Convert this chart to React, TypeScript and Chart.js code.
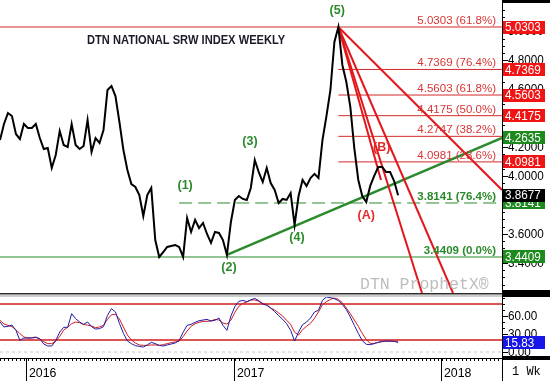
import React, { useEffect, useRef } from 'react';
import { Chart, registerables } from 'chart.js';

Chart.register(...registerables);

// ---------- data ----------
const START_DATE = '2015-11-17';
const YEAR_LABELS = ['2016', '2017', '2018'];

const PRICE = [
  4.249, 4.36, 4.436, 4.415, 4.291, 4.256, 4.36, 4.332, 4.332, 4.36,
  4.263, 4.187, 4.194, 4.056, 4.146, 4.312, 4.215, 4.201, 4.36, 4.215,
  4.187, 4.208, 4.388, 4.167, 4.263, 4.229, 4.319, 4.595, 4.623, 4.553,
  4.374, 4.18, 4.042, 3.945, 3.925, 3.869, 3.724, 3.869, 3.918, 3.558,
  3.441, 3.475, 3.51, 3.517, 3.524, 3.51, 3.441, 3.71, 3.614, 3.697,
  3.641, 3.676, 3.6, 3.538, 3.614, 3.607, 3.558, 3.455, 3.683, 3.835,
  3.862, 3.842, 3.835, 3.918, 4.111, 4.028, 3.959, 4.056, 3.952, 3.904,
  3.814, 3.842, 3.835, 3.883, 3.662, 3.862, 3.973, 3.932, 3.987, 4.015,
  3.987, 4.249, 4.415, 4.595, 4.927, 5.0303, 4.768, 4.65, 4.478, 4.194,
  3.973, 3.862, 3.821, 3.932, 4.001, 4.063, 4.063, 4.028, 4.028, 3.966,
  3.8677,
];

const STOCH_K = [
  50.0, 41.7, 42.8, 45.0, 36.1, 19.4, 23.3, 23.3, 23.3, 24.4,
  22.2, 13.3, 10.0, 10.0, 18.9, 33.3, 41.1, 41.1, 63.9, 55.6,
  50.0, 46.1, 50.0, 42.2, 38.3, 38.9, 42.2, 61.1, 72.2, 66.7,
  47.8, 31.1, 18.3, 13.9, 10.6, 9.4, 8.3, 11.7, 16.1, 13.9,
  11.1, 10.0, 11.7, 13.3, 15.0, 19.4, 32.8, 44.4, 46.1, 49.4,
  52.2, 53.3, 54.4, 51.7, 52.8, 56.7, 44.4, 36.1, 60.0, 75.6,
  84.4, 86.1, 83.9, 86.7, 89.4, 85.6, 80.0, 77.8, 73.3, 67.2,
  60.6, 54.4, 47.2, 36.1, 18.3, 33.3, 45.6, 50.0, 56.7, 66.7,
  69.4, 86.1, 91.7, 90.6, 88.9, 85.6, 79.4, 70.6, 58.3, 44.4,
  31.1, 18.9, 12.8, 12.2, 13.9, 16.1, 17.8, 18.3, 18.3, 17.8,
  15.83,
];

const STOCH_D = [
  52.8, 46.7, 44.4, 42.2, 37.2, 30.6, 25.0, 23.3, 23.9, 25.0,
  21.7, 17.2, 13.9, 13.9, 17.8, 26.1, 36.7, 41.1, 47.2, 50.0,
  48.9, 45.6, 45.0, 43.3, 40.6, 41.7, 44.4, 54.4, 62.2, 62.8,
  55.0, 41.7, 28.3, 20.0, 15.0, 11.7, 11.1, 11.1, 11.7, 11.7,
  11.1, 12.2, 13.9, 15.6, 16.7, 17.8, 25.6, 35.0, 42.8, 47.2,
  49.4, 51.1, 51.1, 51.7, 54.4, 53.3, 48.3, 46.7, 52.8, 66.1,
  76.1, 81.1, 83.3, 86.7, 86.7, 84.4, 81.1, 78.9, 73.3, 70.0,
  65.0, 60.0, 52.8, 46.1, 32.8, 28.3, 37.2, 42.8, 47.8, 56.1,
  66.7, 78.9, 83.9, 87.8, 90.0, 87.8, 82.2, 73.3, 63.9, 53.3,
  42.8, 31.1, 20.6, 14.4, 14.4, 16.1, 17.2, 17.8, 17.8, 17.8,
  17.8,
];

const PRICE_TICKS = [3.4, 3.6, 3.8, 4.0, 4.2, 4.4, 4.6, 4.8, 5.0];
const OSC_TICKS = [0, 30, 60];
const OSC_BANDS = [80, 20];
const OSC_LAST = 15.83;

const FIB_RED = [5.0303, 4.7369, 4.5603, 4.4175, 4.2747, 4.0981];
const FIB_RED_PCT = ['61.8%', '76.4%', '61.8%', '50.0%', '38.2%', '23.6%'];
const FIB_GREEN = [3.8141, 3.4409];
const FIB_GREEN_PCT = ['76.4%', '0.0%'];
const FIB_GREEN_START = [45, 0];

const PEAK_INDEX = 85;
const TREND_WEEKS = [57, 126.1];
const TREND_PRICES = [3.455, 4.2635];
const FAN_END_WEEKS = [126.1, 95.7, 106.0, 113.8];
const FAN_END_PRICES = [3.904, 3.973, 3.192, 3.192];

const WAVE_LABELS = ['(1)', '(2)', '(3)', '(4)', '(5)', '(A)', '(B)'];
const WAVE_WEEKS = [46.5, 57.5, 62.8, 74.6, 84.7, 92.0, 95.9];
const WAVE_PRICES = [3.932, 3.365, 4.236, 3.572, 5.141, 3.724, 4.194];

const AXIS_MARKERS = [5.0303, 4.7369, 4.5603, 4.4175, 4.2635, 4.0981, 3.8141, 3.8677, 3.4409];
const AXIS_MARKER_KIND = ['r', 'r', 'r', 'r', 'g', 'r', 'g', 'k', 'g'];

const X_MAX = 126.1;
const PRICE_MIN = 3.192;
const PRICE_MAX = 5.217;
const OSC_MIN = -10;
const OSC_MAX = 91.67;

// ---------- helpers ----------
const RED = '#e3161b';
const FIB_RED_COLOR = '#d42a2a';
const GREEN = '#2b8a2b';
const SANS = "'Liberation Sans', Arial, sans-serif";
const MONO = "'Liberation Mono', 'Courier New', monospace";

const weekOf = (d: string) => (Date.parse(d) - Date.parse(START_DATE)) / (7 * 864e5);

function txt(
  ctx: CanvasRenderingContext2D, s: string, x: number, y: number, font: string, color: string,
  align: 'left' | 'right' | 'center' = 'left', baseline: CanvasTextBaseline = 'alphabetic', sx = 1,
) {
  ctx.save();
  ctx.font = font;
  ctx.fillStyle = color;
  ctx.textBaseline = baseline;
  ctx.textAlign = 'left';
  const w = ctx.measureText(s).width * sx;
  const left = align === 'left' ? x : align === 'right' ? x - w : x - w / 2;
  ctx.translate(left, y);
  ctx.scale(sx, 1);
  ctx.fillText(s, 0, 0);
  ctx.restore();
}

const seg = (data: { x: number; y: number }[], color: string, width: number, dash: number[] = []) => ({
  data, borderColor: color, borderWidth: width, borderDash: dash, pointRadius: 0,
  fill: false, tension: 0, borderCapStyle: 'butt' as const,
});

function drawValueAxis(ctx: CanvasRenderingContext2D, chart: any, ticks: number[], minorStep: number, digits: number) {
  const { right, top, bottom } = chart.chartArea;
  const ys = chart.scales.y;
  ctx.save();
  ctx.fillStyle = '#000';
  ctx.fillRect(right, top, 1, bottom - top);
  const lo = ys.min, hi = ys.max;
  for (let v = Math.ceil(lo / minorStep) * minorStep; v <= hi; v += minorStep) {
    const y = Math.round(ys.getPixelForValue(v));
    ctx.fillRect(right + 1, y, 2, 1);
  }
  ticks.forEach((v) => {
    const y = Math.round(ys.getPixelForValue(v));
    ctx.fillRect(right + 1, y, 5, 1);
    txt(ctx, v.toFixed(digits), right + 6, y + 0.5, `13px ${SANS}`, '#000', 'left', 'middle', 0.9);
  });
  ctx.restore();
}

function drawBox(ctx: CanvasRenderingContext2D, chart: any, v: number, digits: number, bg: string) {
  const { right } = chart.chartArea;
  const y = chart.scales.y.getPixelForValue(v);
  ctx.save();
  ctx.fillStyle = bg;
  ctx.fillRect(right + 1, Math.round(y - 6.5), 42, 13);
  txt(ctx, v.toFixed(digits), right + 3, y + 0.5, `13px ${SANS}`, '#fff', 'left', 'middle', 0.9);
  ctx.restore();
}

const mainPlugin = {
  id: 'mainDecor',
  afterDatasetsDraw(chart: any) {
    const ctx = chart.ctx as CanvasRenderingContext2D;
    const xs = chart.scales.x, ys = chart.scales.y;
    const { right } = chart.chartArea;
    FIB_RED.forEach((v, k) => {
      txt(ctx, `${v.toFixed(4)} (${FIB_RED_PCT[k]})`, right - 6, ys.getPixelForValue(v) - 3,
        `11.5px ${SANS}`, '#d93535', 'right');
    });
    FIB_GREEN.forEach((v, k) => {
      txt(ctx, `${v.toFixed(4)} (${FIB_GREEN_PCT[k]})`, right - 6, ys.getPixelForValue(v) - 3,
        `bold 11.5px ${SANS}`, GREEN, 'right');
    });
    WAVE_LABELS.forEach((s, k) => {
      const isRed = s === '(A)' || s === '(B)';
      txt(ctx, s, xs.getPixelForValue(WAVE_WEEKS[k]), ys.getPixelForValue(WAVE_PRICES[k]),
        `bold 12.5px ${SANS}`, isRed ? '#e42a2a' : GREEN, 'center', 'middle');
    });
    txt(ctx, 'DTN NATIONAL SRW INDEX WEEKLY', 87, 44, `bold 12.5px ${SANS}`, '#1b1b2a', 'left', 'alphabetic', 0.89);
    txt(ctx, 'DTN ProphetX®', 360, 289, `16.5px ${MONO}`, '#bdbdbd', 'left');
  },
  afterDraw(chart: any) {
    const ctx = chart.ctx as CanvasRenderingContext2D;
    const { right } = chart.chartArea;
    drawValueAxis(ctx, chart, PRICE_TICKS, 0.05, 4);
    AXIS_MARKERS.forEach((v, k) => {
      const kind = AXIS_MARKER_KIND[k];
      drawBox(ctx, chart, v, 4, kind === 'r' ? '#f01414' : kind === 'g' ? '#1d8a1d' : '#000');
    });
    ctx.save();
    ctx.fillStyle = '#000';
    ctx.fillRect(right, 0, chart.width - right, 3);
    ctx.fillRect(right, chart.height - 3, chart.width - right, 3);
    ctx.restore();
  },
};

const oscPlugin = {
  id: 'oscDecor',
  afterDraw(chart: any) {
    const ctx = chart.ctx as CanvasRenderingContext2D;
    const xs = chart.scales.x;
    const { right, top, bottom } = chart.chartArea;
    const W = chart.width, H = chart.height;
    ctx.save();
    // separator from the price panel
    ctx.fillStyle = '#2a2a2a';
    ctx.fillRect(0, 0, W, 1.5);
    ctx.fillStyle = '#9a9a9a';
    ctx.fillRect(0, 2.5, W, 1);
    ctx.fillStyle = '#000';
    ctx.fillRect(right, 0, W - right, top);
    ctx.restore();

    drawValueAxis(ctx, chart, OSC_TICKS, 10, 2);
    drawBox(ctx, chart, OSC_LAST, 2, '#1616e8');

    ctx.save();
    ctx.fillStyle = '#000';
    ctx.fillRect(0, bottom, right, 1);
    ctx.fillRect(right, bottom - 2, W - right, 4);
    ctx.fillRect(right, bottom, 1, H - bottom);
    for (let w = 0; w <= X_MAX; w += 1) {
      const x = Math.round(xs.getPixelForValue(w));
      ctx.fillRect(x, bottom + 1, 1, 2);
    }
    YEAR_LABELS.forEach((yl) => {
      const x = Math.round(xs.getPixelForValue(weekOf(`${yl}-01-01`)));
      ctx.fillRect(x, bottom, 1, H - bottom);
      txt(ctx, yl, x + 3, H - 4, `13px ${SANS}`, '#000', 'left', 'alphabetic', 0.95);
    });
    ctx.restore();
    txt(ctx, '1 Wk', right + 10, H - 6, `12px ${MONO}`, '#000', 'left');
  },
};

export default function App() {
  const mainRef = useRef<HTMLCanvasElement>(null);
  const oscRef = useRef<HTMLCanvasElement>(null);

  useEffect(() => {
    const peak = { x: PEAK_INDEX, y: PRICE[PEAK_INDEX] };
    const mainDatasets: any[] = [
      seg(PRICE.map((y, x) => ({ x, y })), '#000', 2),
      ...FAN_END_WEEKS.map((w, k) => seg([peak, { x: w, y: FAN_END_PRICES[k] }], RED, 2)),
      seg(TREND_WEEKS.map((w, k) => ({ x: w, y: TREND_PRICES[k] })), GREEN, 2.5),
      ...FIB_RED.map((v, k) => seg([{ x: k === 0 ? 0 : PEAK_INDEX, y: v }, { x: X_MAX, y: v }], FIB_RED_COLOR, 1)),
      ...FIB_GREEN.map((v, k) => seg([{ x: FIB_GREEN_START[k], y: v }, { x: X_MAX, y: v }], GREEN, 1, k === 0 ? [13, 6] : [])),
    ];

    const common = (min: number, max: number) => ({
      x: { type: 'linear' as const, min: 0, max: X_MAX, display: false },
      y: {
        type: 'linear' as const, position: 'right' as const, min, max, display: true,
        ticks: { display: false }, grid: { display: false }, border: { display: false },
        afterFit: (s: any) => { s.width = 48; },
      },
    });

    const c1 = new Chart(mainRef.current!, {
      type: 'line',
      data: { datasets: mainDatasets },
      options: {
        responsive: false, maintainAspectRatio: false, animation: false,
        layout: { padding: 0 },
        plugins: { legend: { display: false }, tooltip: { enabled: false } },
        scales: common(PRICE_MIN, PRICE_MAX) as any,
      },
      plugins: [mainPlugin],
    });

    const oscDatasets: any[] = [
      seg(STOCH_K.map((y, x) => ({ x, y })), '#1c1ca8', 1),
      seg(STOCH_D.map((y, x) => ({ x, y })), '#d11a1a', 1),
      ...OSC_BANDS.map((v) => seg([{ x: 0, y: v }, { x: X_MAX, y: v }], '#d01c1c', 1.5)),
      seg([{ x: 0, y: 0 }, { x: X_MAX, y: 0 }], '#c8c8c8', 1, [3, 3]),
    ];

    const c2 = new Chart(oscRef.current!, {
      type: 'line',
      data: { datasets: oscDatasets },
      options: {
        responsive: false, maintainAspectRatio: false, animation: false,
        layout: { padding: { top: 4, bottom: 23, left: 0, right: 0 } },
        plugins: { legend: { display: false }, tooltip: { enabled: false } },
        scales: common(OSC_MIN, OSC_MAX) as any,
      },
      plugins: [oscPlugin],
    });

    return () => { c1.destroy(); c2.destroy(); };
  }, []);

  return (
    <div style={{ position: 'absolute', left: 0, top: 0, width: 550, height: 381, background: '#fff', overflow: 'hidden' }}>
      <canvas ref={mainRef} width={550} height={293}
        style={{ position: 'absolute', left: 0, top: 0, width: 550, height: 293 }} />
      <canvas ref={oscRef} width={550} height={88}
        style={{ position: 'absolute', left: 0, top: 293, width: 550, height: 88 }} />
    </div>
  );
}
